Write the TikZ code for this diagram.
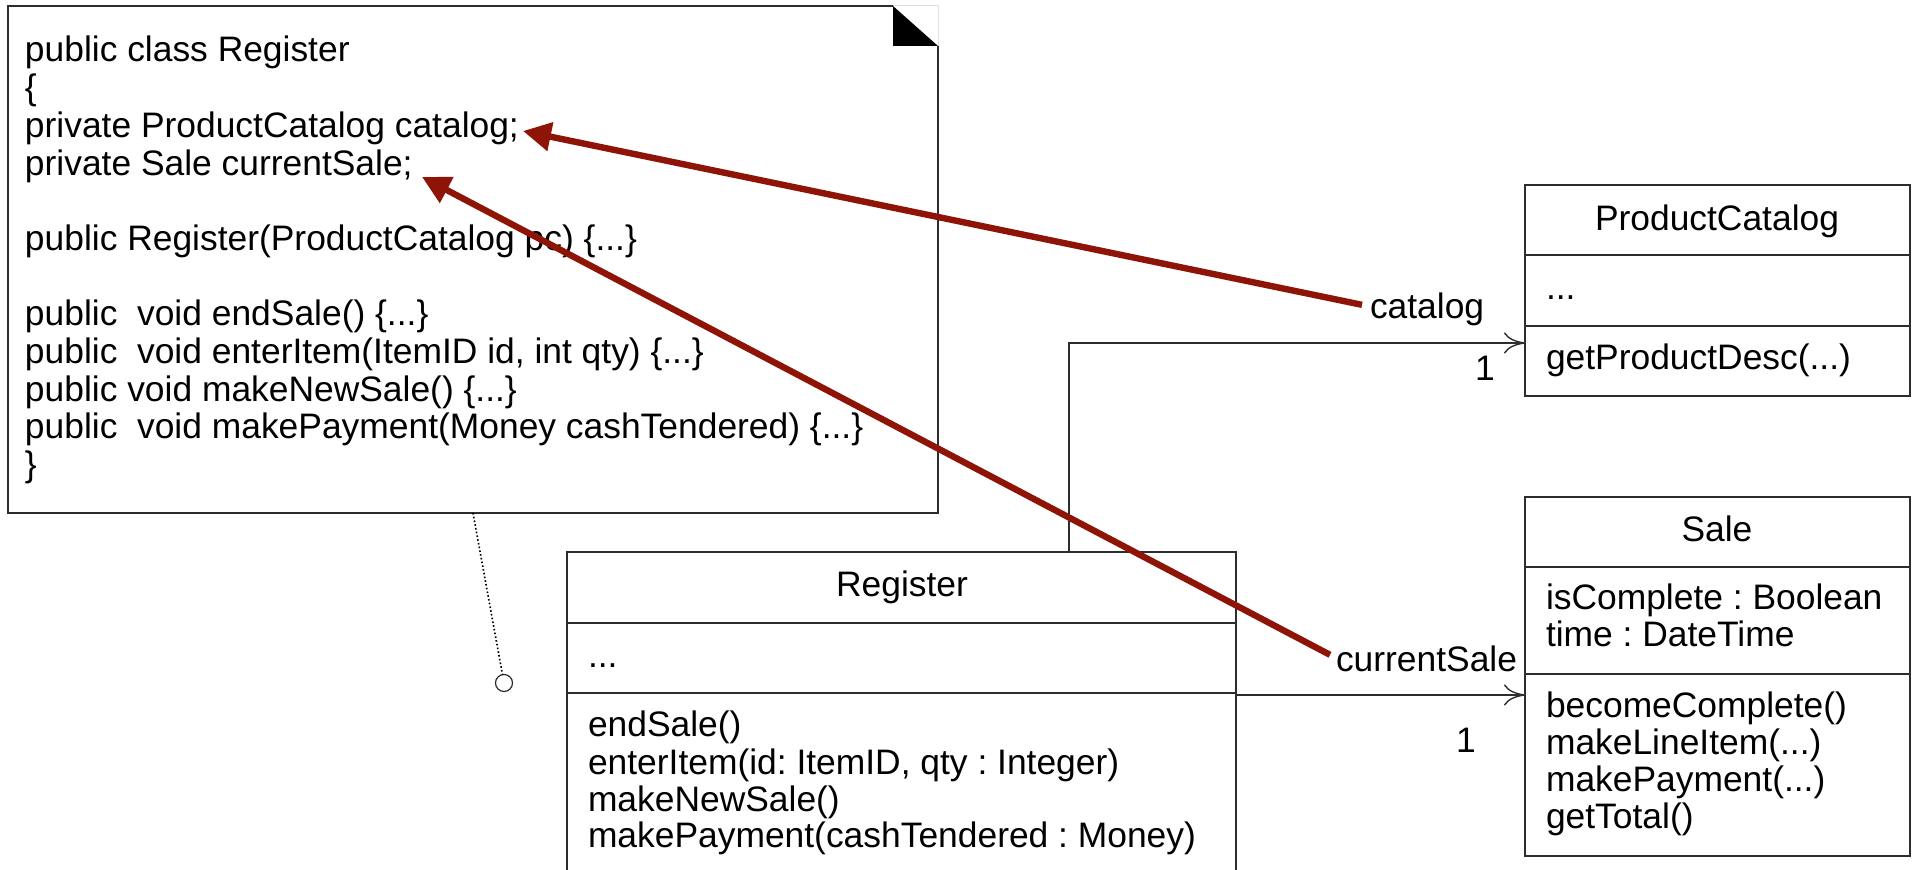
\documentclass[tikz,border=0pt]{standalone}
\usepackage{fontspec}
\setmainfont{Liberation Sans}
\usetikzlibrary{arrows.meta,calc}
\definecolor{darkred}{RGB}{142,20,8}
\definecolor{boxline}{RGB}{45,45,45}
\frenchspacing
\begin{document}
\begin{tikzpicture}[x=0.5pt,y=-0.5pt,
  every node/.style={font=\fontsize{17.7}{18.8}\selectfont, inner sep=0pt, outer sep=0pt},
  txt/.style={anchor=base west},
  ctxt/.style={anchor=base},
  compart/.style={draw=boxline, line width=0.75pt, anchor=north west},
  assoc/.style={draw=boxline, line width=0.7pt, -{Computer Modern Rightarrow[length=10.5pt,width=10.5pt]}},
  redarr/.style={draw=darkred, line width=3.2pt, -{Triangle[length=14pt,width=14pt]}},
  anchorline/.style={line width=0.8pt, dash pattern=on 0.8pt off 1.1pt}
]
\fill[white] (0,0) rectangle (1913,870);
\useasboundingbox (0,0) rectangle (1913,870);

% ---------- note ----------
\node[minimum width=465pt, minimum height=253.5pt, anchor=north west] (note) at (8,6) {};
\draw[gray!25, line width=0.5pt] ($(note.north east)+(-45,0)$) -- (note.north east) -- ($(note.north east)+(0,40)$);
\draw[boxline, line width=0.75pt] ($(note.north east)+(-45,0)$) -- (note.north west) -- (note.south west) -- (note.south east) -- ($(note.north east)+(0,40)$);
\fill[black] ($(note.north east)+(-45,0)$) -- ($(note.north east)+(-45,40)$) -- ($(note.north east)+(0,40)$) -- cycle;

\node[txt] (c1) at (25,62) {public class Register};
\node[txt] (c2) at (25,99.7) {\{};
\node[txt] (c3) at (25,137.4) {private ProductCatalog catalog;};
\node[txt] (c4) at (25,175.1) {private Sale currentSale;};
\node[txt] (c5) at (25,250.5) {public Register(ProductCatalog pc) \{...\}};
\node[txt] (c6) at (25,325.9) {public\ \ void endSale() \{...\}};
\node[txt] (c7) at (25,363.6) {public\ \ void enterItem(ItemID id, int qty) \{...\}};
\node[txt] (c8) at (25,401.3) {public void makeNewSale() \{...\}};
\node[txt] (c9) at (25,439) {public\ \ void makePayment(Money cashTendered) \{...\}};
\node[txt] (c10) at (25,476.7) {\}};

% note anchor
\node[circle, draw=boxline, line width=0.6pt, minimum size=8.5pt] (knob) at (504,683) {};
\draw[anchorline] (note.south) -- (knob);

% ---------- ProductCatalog ----------
\node[compart, minimum width=192.5pt, minimum height=35pt] (pcname) at (1525,185) {};
\node[compart, minimum width=192.5pt, minimum height=35.5pt] (pcattr) at (1525,255) {};
\node[compart, minimum width=192.5pt, minimum height=35pt] (pcops) at (1525,326) {};
\node[ctxt] (pct) at (1717,231) {ProductCatalog};
\node[txt] (pca) at (1546,300) {...};
\node[txt] (pco) at (1546,370) {getProductDesc(...)};

% ---------- Sale ----------
\node[compart, minimum width=192.5pt, minimum height=35pt] (salename) at (1525,497) {};
\node[compart, minimum width=192.5pt, minimum height=53.5pt] (saleattr) at (1525,567) {};
\node[compart, minimum width=192.5pt, minimum height=91pt] (saleops) at (1525,674) {};
\node[ctxt] (st) at (1717,542) {Sale};
\node[txt] (sa1) at (1546,610) {isComplete : Boolean};
\node[txt] (sa2) at (1546,647) {time : DateTime};
\node[txt] (so1) at (1546,718) {becomeComplete()};
\node[txt] (so2) at (1546,755) {makeLineItem(...)};
\node[txt] (so3) at (1546,792) {makePayment(...)};
\node[txt] (so4) at (1546,829) {getTotal()};

% ---------- Register ----------
\begin{scope}
\clip (0,0) rectangle (1913,870);
\node[compart, minimum width=334.5pt, minimum height=35.5pt] (regname) at (567,552) {};
\node[compart, minimum width=334.5pt, minimum height=35pt] (regattr) at (567,623) {};
\node[compart, minimum width=334.5pt, minimum height=100pt] (regops) at (567,693) {};
\end{scope}
\node[ctxt] (rt) at (902,597) {Register};
\node[txt] (ra) at (588,668) {...};
\node[txt] (ro1) at (588,737) {endSale()};
\node[txt] (ro2) at (588,775) {enterItem(id: ItemID, qty : Integer)};
\node[txt] (ro3) at (588,812) {makeNewSale()};
\node[txt] (ro4) at (588,848) {makePayment(cashTendered : Money)};

% ---------- associations ----------
\coordinate (bend) at (1069,343);
\coordinate (sa) at (1236,695);
\draw[assoc] (regname.north -| bend) -- (bend) -- (pcops.west |- bend);
\draw[assoc] (sa) -- (saleops.west |- sa);
\node[txt] (catlbl) at (1370,319) {catalog};
\node[ctxt] (m1) at (1485,381) {1};
\node[txt] (cslbl) at (1336,672) {currentSale};
\node[ctxt] (m2) at (1466,753) {1};

% ---------- red arrows ----------
\coordinate (tip1) at (523,131);
\coordinate (tip2) at (422,177);
\draw[redarr] ([xshift=-4pt,yshift=2.5pt]catlbl.west) -- (tip1);
\draw[redarr] ([xshift=-3pt,yshift=2.25pt]cslbl.west) -- (tip2);
\end{tikzpicture}
\end{document}
